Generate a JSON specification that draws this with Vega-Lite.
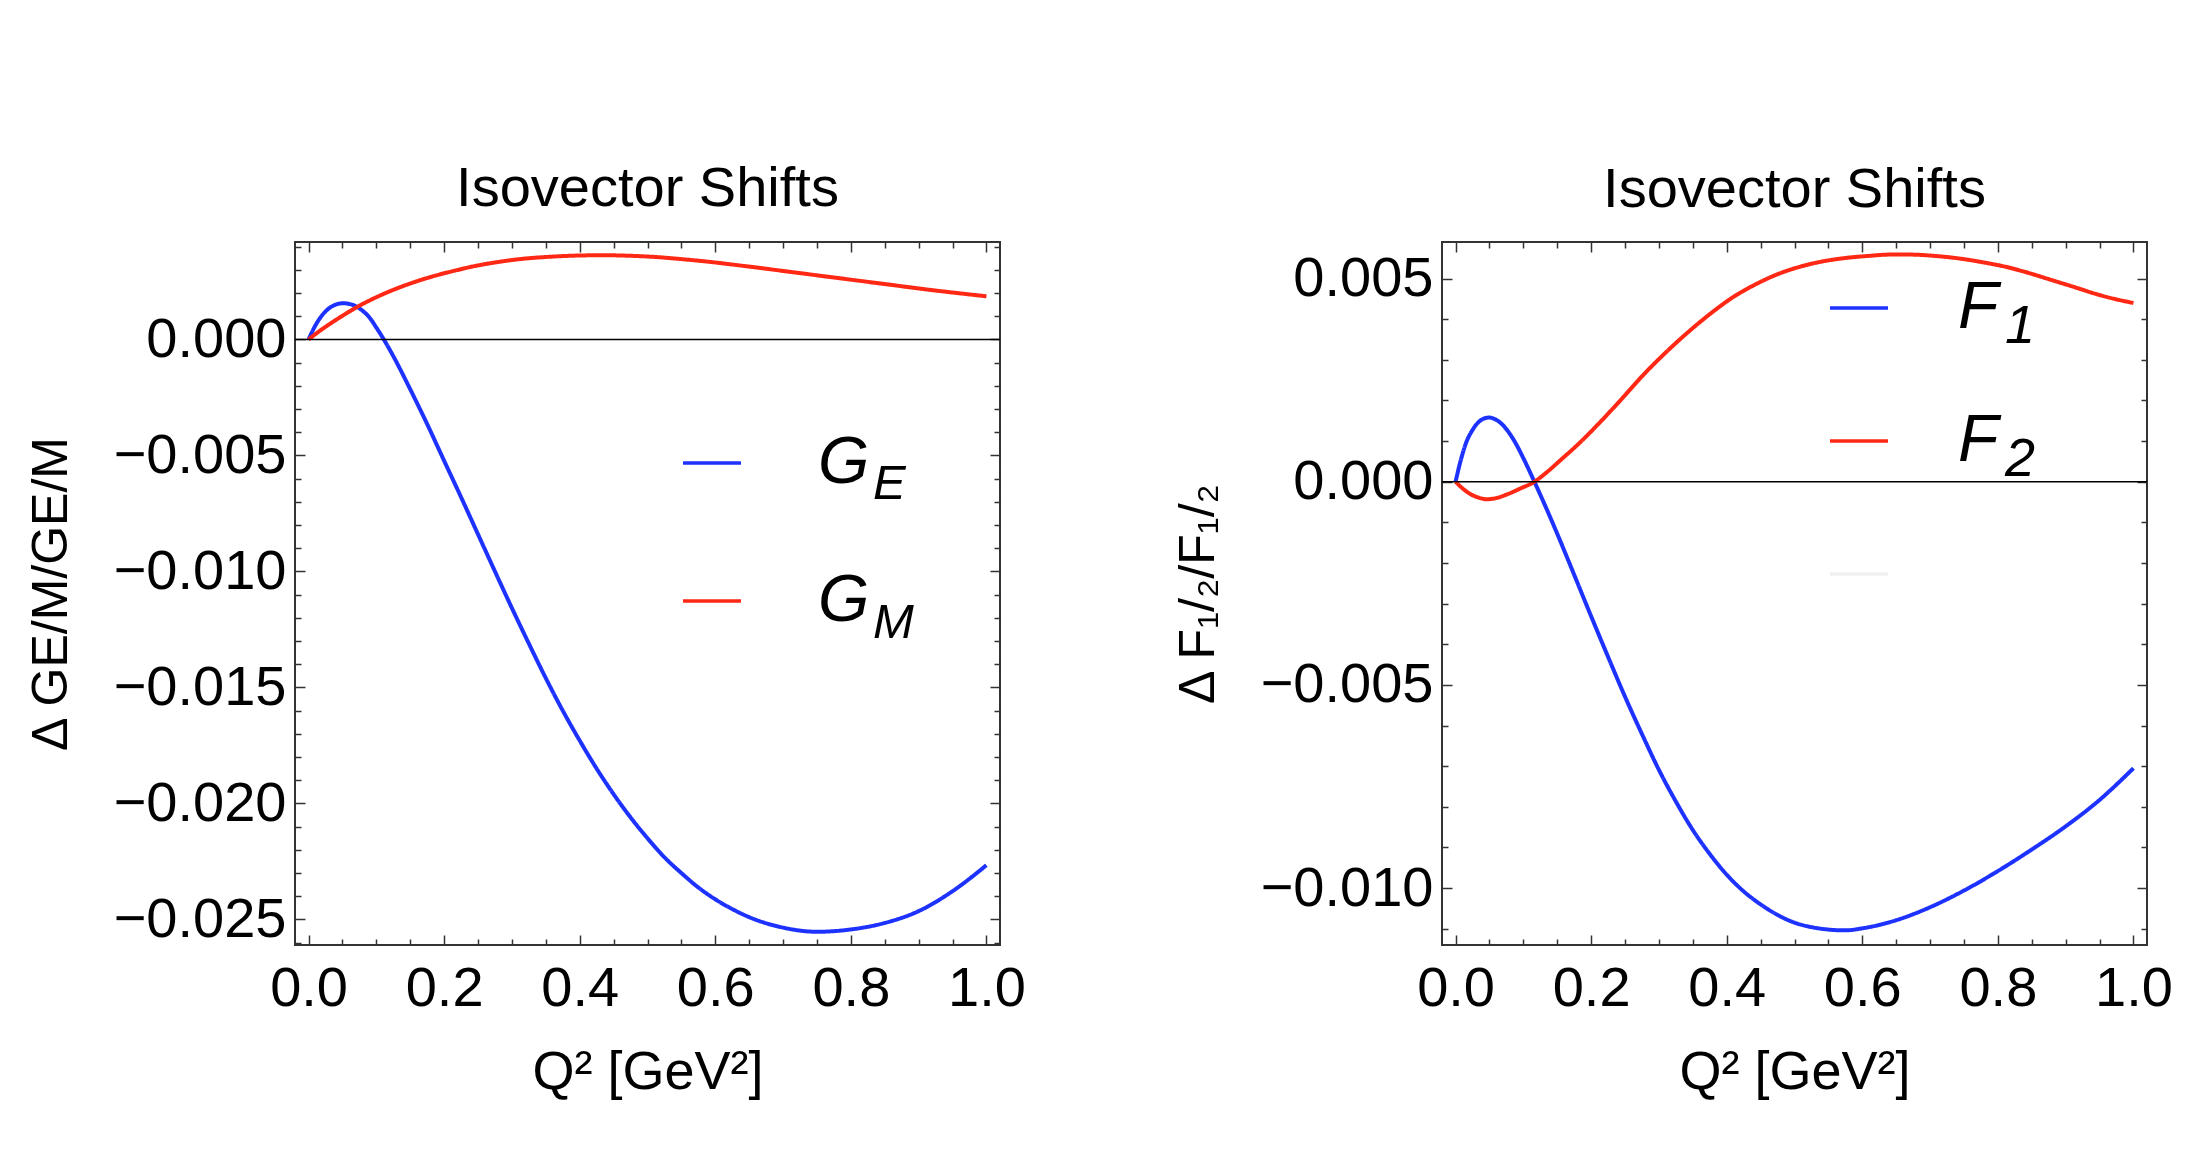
{
  "$schema": "https://vega.github.io/schema/vega-lite/v6.json",
  "background": "white",
  "padding": {"left": 25, "top": 159, "right": 0, "bottom": 0},
  "bounds": "flush",
  "spacing": 442,
  "resolve": {"scale": {"color": "independent", "strokeDash": "independent"}},
  "config": {
    "font": "Liberation Sans",
    "view": {"stroke": "#333333", "strokeWidth": 2},
    "axis": {
      "grid": false,
      "domain": false,
      "labelFont": "Liberation Sans",
      "labelFontSize": 56,
      "labelColor": "black",
      "labelFlush": false,
      "labelOverlap": false,
      "labelBound": false,
      "tickColor": "#333333",
      "tickWidth": 1.5,
      "titleFont": "Liberation Sans",
      "titleFontSize": 54,
      "titleFontWeight": "normal",
      "titleColor": "black",
      "minExtent": 0
    },
    "title": {"font": "Liberation Sans", "fontSize": 56, "fontWeight": "normal", "color": "black"},
    "legend": {"labelFont": "Liberation Sans", "labelColor": "black", "labelLimit": 0, "padding": 0, "title": null}
  },
  "hconcat": [
    {
      "width": 705,
      "height": 703,
      "title": {"text": "Isovector Shifts", "anchor": "middle", "baseline": "alphabetic", "offset": -43},
      "layer": [
        {
          "data": {"values": [
            {"q": 0, "v": 0, "s": "GE", "sub": "E"},
            {"q": 0.01, "v": 0.0006, "s": "GE", "sub": "E"},
            {"q": 0.02, "v": 0.00104, "s": "GE", "sub": "E"},
            {"q": 0.031, "v": 0.00136, "s": "GE", "sub": "E"},
            {"q": 0.042, "v": 0.00152, "s": "GE", "sub": "E"},
            {"q": 0.051, "v": 0.00156, "s": "GE", "sub": "E"},
            {"q": 0.06, "v": 0.00153, "s": "GE", "sub": "E"},
            {"q": 0.07, "v": 0.00143, "s": "GE", "sub": "E"},
            {"q": 0.08, "v": 0.00123, "s": "GE", "sub": "E"},
            {"q": 0.09, "v": 0.00094, "s": "GE", "sub": "E"},
            {"q": 0.1, "v": 0.00051, "s": "GE", "sub": "E"},
            {"q": 0.111, "v": 0.0, "s": "GE", "sub": "E"},
            {"q": 0.125, "v": -0.00072, "s": "GE", "sub": "E"},
            {"q": 0.15, "v": -0.00215, "s": "GE", "sub": "E"},
            {"q": 0.175, "v": -0.00365, "s": "GE", "sub": "E"},
            {"q": 0.2, "v": -0.00523, "s": "GE", "sub": "E"},
            {"q": 0.225, "v": -0.0068, "s": "GE", "sub": "E"},
            {"q": 0.25, "v": -0.0084, "s": "GE", "sub": "E"},
            {"q": 0.275, "v": -0.01, "s": "GE", "sub": "E"},
            {"q": 0.3, "v": -0.01158, "s": "GE", "sub": "E"},
            {"q": 0.325, "v": -0.01311, "s": "GE", "sub": "E"},
            {"q": 0.35, "v": -0.0146, "s": "GE", "sub": "E"},
            {"q": 0.375, "v": -0.016, "s": "GE", "sub": "E"},
            {"q": 0.4, "v": -0.01729, "s": "GE", "sub": "E"},
            {"q": 0.425, "v": -0.0185, "s": "GE", "sub": "E"},
            {"q": 0.45, "v": -0.0196, "s": "GE", "sub": "E"},
            {"q": 0.475, "v": -0.0206, "s": "GE", "sub": "E"},
            {"q": 0.5, "v": -0.0215, "s": "GE", "sub": "E"},
            {"q": 0.525, "v": -0.02232, "s": "GE", "sub": "E"},
            {"q": 0.55, "v": -0.023, "s": "GE", "sub": "E"},
            {"q": 0.575, "v": -0.02362, "s": "GE", "sub": "E"},
            {"q": 0.6, "v": -0.02413, "s": "GE", "sub": "E"},
            {"q": 0.625, "v": -0.02455, "s": "GE", "sub": "E"},
            {"q": 0.65, "v": -0.0249, "s": "GE", "sub": "E"},
            {"q": 0.7, "v": -0.02535, "s": "GE", "sub": "E"},
            {"q": 0.75, "v": -0.02553, "s": "GE", "sub": "E"},
            {"q": 0.8, "v": -0.02543, "s": "GE", "sub": "E"},
            {"q": 0.85, "v": -0.02515, "s": "GE", "sub": "E"},
            {"q": 0.9, "v": -0.02464, "s": "GE", "sub": "E"},
            {"q": 0.95, "v": -0.02378, "s": "GE", "sub": "E"},
            {"q": 1.0, "v": -0.02266, "s": "GE", "sub": "E"},
            {"q": 0, "v": 0, "s": "GM", "sub": "M"},
            {"q": 0.017, "v": 0.00038, "s": "GM", "sub": "M"},
            {"q": 0.034, "v": 0.00072, "s": "GM", "sub": "M"},
            {"q": 0.05, "v": 0.00102, "s": "GM", "sub": "M"},
            {"q": 0.068, "v": 0.00134, "s": "GM", "sub": "M"},
            {"q": 0.09, "v": 0.00168, "s": "GM", "sub": "M"},
            {"q": 0.1145, "v": 0.00201, "s": "GM", "sub": "M"},
            {"q": 0.145, "v": 0.00236, "s": "GM", "sub": "M"},
            {"q": 0.181, "v": 0.0027, "s": "GM", "sub": "M"},
            {"q": 0.215, "v": 0.00296, "s": "GM", "sub": "M"},
            {"q": 0.248, "v": 0.00318, "s": "GM", "sub": "M"},
            {"q": 0.28, "v": 0.00334, "s": "GM", "sub": "M"},
            {"q": 0.314, "v": 0.00347, "s": "GM", "sub": "M"},
            {"q": 0.348, "v": 0.00355, "s": "GM", "sub": "M"},
            {"q": 0.381, "v": 0.0036, "s": "GM", "sub": "M"},
            {"q": 0.434, "v": 0.00363, "s": "GM", "sub": "M"},
            {"q": 0.48, "v": 0.0036, "s": "GM", "sub": "M"},
            {"q": 0.514, "v": 0.00355, "s": "GM", "sub": "M"},
            {"q": 0.547, "v": 0.00347, "s": "GM", "sub": "M"},
            {"q": 0.58, "v": 0.00338, "s": "GM", "sub": "M"},
            {"q": 0.647, "v": 0.00315, "s": "GM", "sub": "M"},
            {"q": 0.714, "v": 0.0029, "s": "GM", "sub": "M"},
            {"q": 0.78, "v": 0.00265, "s": "GM", "sub": "M"},
            {"q": 0.847, "v": 0.0024, "s": "GM", "sub": "M"},
            {"q": 0.913, "v": 0.00215, "s": "GM", "sub": "M"},
            {"q": 1.0, "v": 0.00186, "s": "GM", "sub": "M"}
          ]},
          "mark": {"type": "line", "strokeWidth": 4, "interpolate": "monotone"},
          "encoding": {
            "x": {
              "field": "q", "type": "quantitative",
              "scale": {"domain": [-0.02, 1.02], "nice": false, "zero": false},
              "axis": {
                "orient": "bottom",
                "title": "Q² [GeV²]",
                "titlePadding": 25,
                "values": [0, 0.05, 0.1, 0.15, 0.2, 0.25, 0.3, 0.35, 0.4, 0.45, 0.5, 0.55, 0.6, 0.65, 0.7, 0.75, 0.8, 0.85, 0.9, 0.95, 1.0],
                "labelExpr": "abs(datum.value*5 - round(datum.value*5)) < 1e-6 ? format(datum.value, '.1f') : ''",
                "tickSize": {"condition": {"test": "abs(datum.value*5 - round(datum.value*5)) < 1e-6", "value": -10}, "value": -6},
                "labelPadding": 26
              }
            },
            "y": {
              "field": "v", "type": "quantitative",
              "scale": {"domain": [-0.0261, 0.0042], "nice": false, "zero": false},
              "axis": {
                "orient": "left",
                "title": "Δ GE/M/GE/M",
                "titleFontSize": 50,
                "titlePadding": 37,
                "values": [-0.026, -0.025, -0.024, -0.023, -0.022, -0.021, -0.02, -0.019, -0.018, -0.017, -0.016, -0.015, -0.014, -0.013, -0.012, -0.011, -0.01, -0.009, -0.008, -0.007, -0.006, -0.005, -0.004, -0.003, -0.002, -0.001, 0, 0.001, 0.002, 0.003, 0.004],
                "labelExpr": "abs(datum.value*200 - round(datum.value*200)) < 1e-6 ? format(datum.value, '.3f') : ''",
                "tickSize": {"condition": {"test": "abs(datum.value*200 - round(datum.value*200)) < 1e-6", "value": -10}, "value": -6},
                "labelPadding": 19
              }
            },
            "color": {
              "field": "s", "type": "nominal",
              "scale": {"domain": ["GE", "GM"], "range": ["#1e32ff", "#ff2814"]},
              "legend": {
                "orient": "none", "legendX": 384, "legendY": 188,
                "symbolType": "stroke", "symbolSize": 3364, "symbolStrokeWidth": 3.5,
                "labelExpr": "'G'", "labelFontSize": 66, "labelFontStyle": "italic",
                "labelOffset": 73, "rowPadding": 72
              }
            },
            "strokeDash": {
              "field": "sub", "type": "nominal",
              "scale": {"domain": ["E", "M"], "range": [[1, 0], [1, 0]]},
              "legend": {
                "orient": "none", "legendX": 386, "legendY": 217,
                "symbolType": "stroke", "symbolSize": 0, "symbolStrokeWidth": 0,
                "labelFontSize": 49, "labelFontStyle": "italic",
                "labelOffset": 143, "rowPadding": 89
              }
            }
          }
        },
        {
          "data": {"values": [{}]},
          "mark": {"type": "rule", "color": "black", "strokeWidth": 1.5},
          "encoding": {
            "x": {
              "datum": -0.02, "type": "quantitative",
              "scale": {"domain": [-0.02, 1.02], "nice": false, "zero": false},
              "axis": {
                "orient": "top", "title": null, "labels": false,
                "values": [0, 0.05, 0.1, 0.15, 0.2, 0.25, 0.3, 0.35, 0.4, 0.45, 0.5, 0.55, 0.6, 0.65, 0.7, 0.75, 0.8, 0.85, 0.9, 0.95, 1.0],
                "tickSize": {"condition": {"test": "abs(datum.value*5 - round(datum.value*5)) < 1e-6", "value": -10}, "value": -6}
              }
            },
            "x2": {"datum": 1.02},
            "y": {
              "datum": 0, "type": "quantitative",
              "scale": {"domain": [-0.0261, 0.0042], "nice": false, "zero": false},
              "axis": {
                "orient": "right", "title": null, "labels": false,
                "values": [-0.026, -0.025, -0.024, -0.023, -0.022, -0.021, -0.02, -0.019, -0.018, -0.017, -0.016, -0.015, -0.014, -0.013, -0.012, -0.011, -0.01, -0.009, -0.008, -0.007, -0.006, -0.005, -0.004, -0.003, -0.002, -0.001, 0, 0.001, 0.002, 0.003, 0.004],
                "tickSize": {"condition": {"test": "abs(datum.value*200 - round(datum.value*200)) < 1e-6", "value": -10}, "value": -6}
              }
            }
          }
        }
      ],
      "resolve": {"scale": {"x": "independent", "y": "independent"}}
    },
    {
      "width": 705,
      "height": 703,
      "title": {"text": "Isovector Shifts", "anchor": "middle", "baseline": "alphabetic", "offset": -22},
      "layer": [
        {
          "data": {"values": [
            {"q": 0, "v": 0, "s": "F1", "sub": "1"},
            {"q": 0.008, "v": 0.00055, "s": "F1", "sub": "1"},
            {"q": 0.016, "v": 0.00098, "s": "F1", "sub": "1"},
            {"q": 0.0245, "v": 0.00126, "s": "F1", "sub": "1"},
            {"q": 0.0328, "v": 0.00145, "s": "F1", "sub": "1"},
            {"q": 0.041, "v": 0.00155, "s": "F1", "sub": "1"},
            {"q": 0.0495, "v": 0.00158, "s": "F1", "sub": "1"},
            {"q": 0.058, "v": 0.00154, "s": "F1", "sub": "1"},
            {"q": 0.0695, "v": 0.0014, "s": "F1", "sub": "1"},
            {"q": 0.08, "v": 0.00118, "s": "F1", "sub": "1"},
            {"q": 0.0896, "v": 0.00092, "s": "F1", "sub": "1"},
            {"q": 0.1, "v": 0.00058, "s": "F1", "sub": "1"},
            {"q": 0.1163, "v": 0, "s": "F1", "sub": "1"},
            {"q": 0.133, "v": -0.00062, "s": "F1", "sub": "1"},
            {"q": 0.15, "v": -0.00128, "s": "F1", "sub": "1"},
            {"q": 0.175, "v": -0.00229, "s": "F1", "sub": "1"},
            {"q": 0.2, "v": -0.00331, "s": "F1", "sub": "1"},
            {"q": 0.225, "v": -0.00431, "s": "F1", "sub": "1"},
            {"q": 0.25, "v": -0.00529, "s": "F1", "sub": "1"},
            {"q": 0.275, "v": -0.00621, "s": "F1", "sub": "1"},
            {"q": 0.3, "v": -0.00709, "s": "F1", "sub": "1"},
            {"q": 0.325, "v": -0.00787, "s": "F1", "sub": "1"},
            {"q": 0.35, "v": -0.00857, "s": "F1", "sub": "1"},
            {"q": 0.375, "v": -0.00916, "s": "F1", "sub": "1"},
            {"q": 0.4, "v": -0.00967, "s": "F1", "sub": "1"},
            {"q": 0.425, "v": -0.01008, "s": "F1", "sub": "1"},
            {"q": 0.45, "v": -0.0104, "s": "F1", "sub": "1"},
            {"q": 0.475, "v": -0.01066, "s": "F1", "sub": "1"},
            {"q": 0.5, "v": -0.01085, "s": "F1", "sub": "1"},
            {"q": 0.525, "v": -0.01096, "s": "F1", "sub": "1"},
            {"q": 0.55, "v": -0.01102, "s": "F1", "sub": "1"},
            {"q": 0.575, "v": -0.01104, "s": "F1", "sub": "1"},
            {"q": 0.6, "v": -0.01099, "s": "F1", "sub": "1"},
            {"q": 0.65, "v": -0.01079, "s": "F1", "sub": "1"},
            {"q": 0.7, "v": -0.01047, "s": "F1", "sub": "1"},
            {"q": 0.75, "v": -0.01006, "s": "F1", "sub": "1"},
            {"q": 0.8, "v": -0.00958, "s": "F1", "sub": "1"},
            {"q": 0.85, "v": -0.00905, "s": "F1", "sub": "1"},
            {"q": 0.9, "v": -0.00848, "s": "F1", "sub": "1"},
            {"q": 0.95, "v": -0.00783, "s": "F1", "sub": "1"},
            {"q": 1.0, "v": -0.00705, "s": "F1", "sub": "1"},
            {"q": 0, "v": 0, "s": "F2", "sub": "2"},
            {"q": 0.0115, "v": -0.00018, "s": "F2", "sub": "2"},
            {"q": 0.0227, "v": -0.00031, "s": "F2", "sub": "2"},
            {"q": 0.034, "v": -0.00039, "s": "F2", "sub": "2"},
            {"q": 0.046, "v": -0.00043, "s": "F2", "sub": "2"},
            {"q": 0.058, "v": -0.00041, "s": "F2", "sub": "2"},
            {"q": 0.0762, "v": -0.00031, "s": "F2", "sub": "2"},
            {"q": 0.095, "v": -0.00017, "s": "F2", "sub": "2"},
            {"q": 0.1163, "v": 0, "s": "F2", "sub": "2"},
            {"q": 0.135, "v": 0.00024, "s": "F2", "sub": "2"},
            {"q": 0.156, "v": 0.00055, "s": "F2", "sub": "2"},
            {"q": 0.18, "v": 0.00091, "s": "F2", "sub": "2"},
            {"q": 0.21, "v": 0.00141, "s": "F2", "sub": "2"},
            {"q": 0.243, "v": 0.002, "s": "F2", "sub": "2"},
            {"q": 0.277, "v": 0.00263, "s": "F2", "sub": "2"},
            {"q": 0.31, "v": 0.00318, "s": "F2", "sub": "2"},
            {"q": 0.3436, "v": 0.00369, "s": "F2", "sub": "2"},
            {"q": 0.377, "v": 0.00415, "s": "F2", "sub": "2"},
            {"q": 0.41, "v": 0.00455, "s": "F2", "sub": "2"},
            {"q": 0.444, "v": 0.00487, "s": "F2", "sub": "2"},
            {"q": 0.477, "v": 0.00512, "s": "F2", "sub": "2"},
            {"q": 0.51, "v": 0.0053, "s": "F2", "sub": "2"},
            {"q": 0.544, "v": 0.00543, "s": "F2", "sub": "2"},
            {"q": 0.577, "v": 0.00551, "s": "F2", "sub": "2"},
            {"q": 0.611, "v": 0.00556, "s": "F2", "sub": "2"},
            {"q": 0.64, "v": 0.00559, "s": "F2", "sub": "2"},
            {"q": 0.671, "v": 0.00559, "s": "F2", "sub": "2"},
            {"q": 0.705, "v": 0.00556, "s": "F2", "sub": "2"},
            {"q": 0.745, "v": 0.00549, "s": "F2", "sub": "2"},
            {"q": 0.778, "v": 0.0054, "s": "F2", "sub": "2"},
            {"q": 0.8115, "v": 0.00529, "s": "F2", "sub": "2"},
            {"q": 0.845, "v": 0.00514, "s": "F2", "sub": "2"},
            {"q": 0.878, "v": 0.00497, "s": "F2", "sub": "2"},
            {"q": 0.911, "v": 0.0048, "s": "F2", "sub": "2"},
            {"q": 0.945, "v": 0.00462, "s": "F2", "sub": "2"},
            {"q": 0.972, "v": 0.0045, "s": "F2", "sub": "2"},
            {"q": 1.0, "v": 0.0044, "s": "F2", "sub": "2"}
          ]},
          "mark": {"type": "line", "strokeWidth": 4, "interpolate": "monotone"},
          "encoding": {
            "x": {
              "field": "q", "type": "quantitative",
              "scale": {"domain": [-0.02, 1.02], "nice": false, "zero": false},
              "axis": {
                "orient": "bottom",
                "title": "Q² [GeV²]",
                "titlePadding": 25,
                "values": [0, 0.05, 0.1, 0.15, 0.2, 0.25, 0.3, 0.35, 0.4, 0.45, 0.5, 0.55, 0.6, 0.65, 0.7, 0.75, 0.8, 0.85, 0.9, 0.95, 1.0],
                "labelExpr": "abs(datum.value*5 - round(datum.value*5)) < 1e-6 ? format(datum.value, '.1f') : ''",
                "tickSize": {"condition": {"test": "abs(datum.value*5 - round(datum.value*5)) < 1e-6", "value": -10}, "value": -6},
                "labelPadding": 26
              }
            },
            "y": {
              "field": "v", "type": "quantitative",
              "scale": {"domain": [-0.0114, 0.0059], "nice": false, "zero": false},
              "axis": {
                "orient": "left",
                "title": "Δ F₁/₂/F₁/₂",
                "titleFontSize": 50,
                "titlePadding": 37,
                "values": [-0.011, -0.01, -0.009, -0.008, -0.007, -0.006, -0.005, -0.004, -0.003, -0.002, -0.001, 0, 0.001, 0.002, 0.003, 0.004, 0.005],
                "labelExpr": "abs(datum.value*200 - round(datum.value*200)) < 1e-6 ? format(datum.value, '.3f') : ''",
                "tickSize": {"condition": {"test": "abs(datum.value*200 - round(datum.value*200)) < 1e-6", "value": -10}, "value": -6},
                "labelPadding": 19
              }
            },
            "color": {
              "field": "s", "type": "nominal",
              "scale": {"domain": ["F1", "F2", "F3"], "range": ["#1e32ff", "#ff2814", "#f0f0f0"]},
              "legend": {
                "orient": "none", "legendX": 384, "legendY": 33,
                "symbolType": "stroke", "symbolSize": 3364, "symbolStrokeWidth": 3.5,
                "labelExpr": "datum.value == 'F3' ? '' : 'F'", "labelFontSize": 66, "labelFontStyle": "italic",
                "labelOffset": 66, "rowPadding": 67
              }
            },
            "strokeDash": {
              "field": "sub", "type": "nominal",
              "scale": {"domain": ["1", "2"], "range": [[1, 0], [1, 0]]},
              "legend": {
                "orient": "none", "legendX": 386, "legendY": 58,
                "symbolType": "stroke", "symbolSize": 0, "symbolStrokeWidth": 0,
                "labelFontSize": 54, "labelFontStyle": "italic",
                "labelOffset": 123, "rowPadding": 79
              }
            }
          }
        },
        {
          "data": {"values": [{}]},
          "mark": {"type": "rule", "color": "black", "strokeWidth": 1.5},
          "encoding": {
            "x": {
              "datum": -0.02, "type": "quantitative",
              "scale": {"domain": [-0.02, 1.02], "nice": false, "zero": false},
              "axis": {
                "orient": "top", "title": null, "labels": false,
                "values": [0, 0.05, 0.1, 0.15, 0.2, 0.25, 0.3, 0.35, 0.4, 0.45, 0.5, 0.55, 0.6, 0.65, 0.7, 0.75, 0.8, 0.85, 0.9, 0.95, 1.0],
                "tickSize": {"condition": {"test": "abs(datum.value*5 - round(datum.value*5)) < 1e-6", "value": -10}, "value": -6}
              }
            },
            "x2": {"datum": 1.02},
            "y": {
              "datum": 0, "type": "quantitative",
              "scale": {"domain": [-0.0114, 0.0059], "nice": false, "zero": false},
              "axis": {
                "orient": "right", "title": null, "labels": false,
                "values": [-0.011, -0.01, -0.009, -0.008, -0.007, -0.006, -0.005, -0.004, -0.003, -0.002, -0.001, 0, 0.001, 0.002, 0.003, 0.004, 0.005],
                "tickSize": {"condition": {"test": "abs(datum.value*200 - round(datum.value*200)) < 1e-6", "value": -10}, "value": -6}
              }
            }
          }
        }
      ],
      "resolve": {"scale": {"x": "independent", "y": "independent"}}
    }
  ]
}
